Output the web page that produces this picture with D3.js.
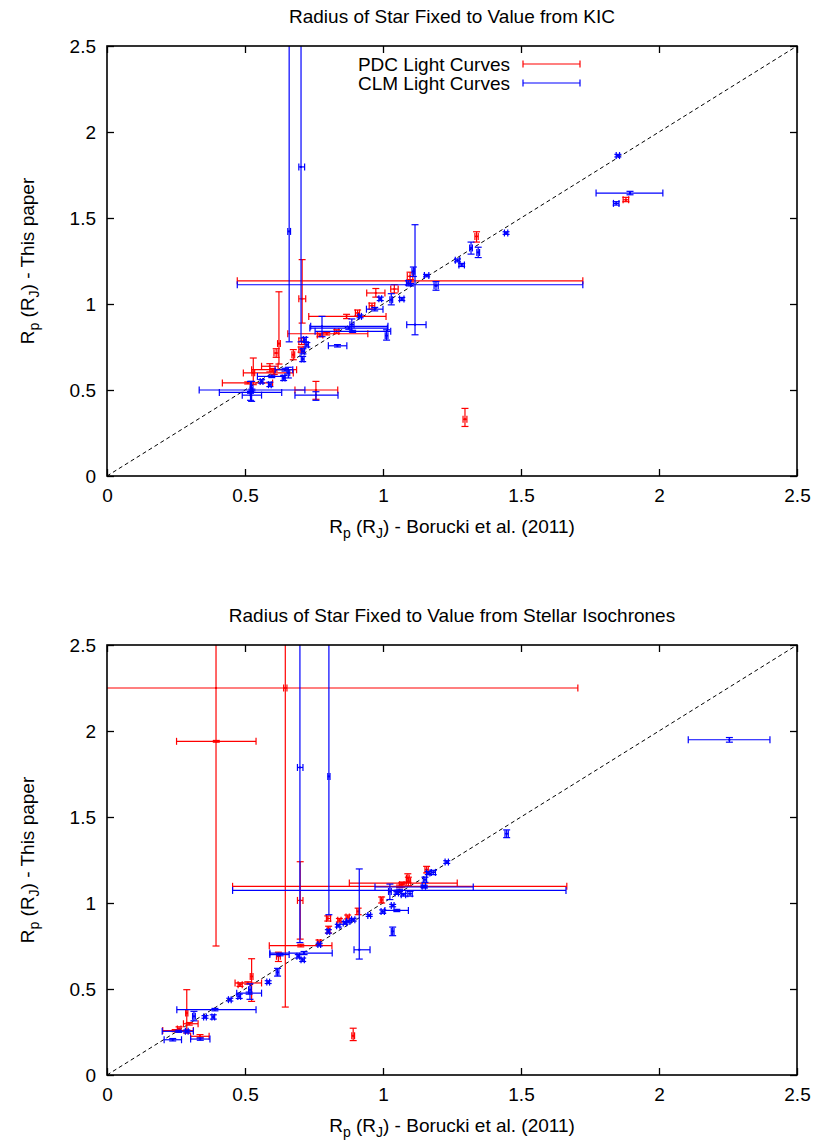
<!DOCTYPE html>
<html>
<head>
<meta charset="utf-8">
<script src="https://cdn.jsdelivr.net/npm/d3@7"></script>
<style>
  body { margin: 0; background: #fff; }
  text { font-family: "Liberation Sans", Arial, sans-serif; fill: #000; }
</style>
</head>
<body>
<div id="chart"></div>
<script>
// Planet radius comparison, two panels

// Data: [x, y, xlow, xhigh, ylow, yhigh]
var topPdc = [
  [1.10, 1.135, 0.472, 1.724, 1.128, 1.142],
  [0.707, 1.03, 0.695, 0.72, 0.889, 1.258],
  [0.623, 0.77, 0.618, 0.628, 0.651, 1.071],
  [0.757, 0.50, 0.681, 0.836, 0.446, 0.55],
  [0.868, 0.928, 0.731, 1.011, 0.915, 0.94],
  [0.796, 0.827, 0.655, 0.945, 0.82, 0.835],
  [1.098, 1.161, 1.088, 1.108, 1.14, 1.185],
  [1.041, 1.087, 1.028, 1.055, 1.064, 1.112],
  [0.974, 1.064, 0.941, 1.007, 1.04, 1.09],
  [0.96, 0.99, 0.95, 0.97, 0.97, 1.005],
  [0.908, 0.948, 0.9, 0.915, 0.93, 0.965],
  [0.772, 0.82, 0.762, 0.782, 0.81, 0.83],
  [0.832, 0.84, 0.825, 0.84, 0.83, 0.85],
  [0.705, 0.783, 0.695, 0.715, 0.764, 0.802],
  [0.675, 0.705, 0.67, 0.68, 0.676, 0.735],
  [0.703, 0.734, 0.695, 0.71, 0.72, 0.75],
  [0.613, 0.715, 0.605, 0.62, 0.69, 0.74],
  [0.60, 0.618, 0.524, 0.687, 0.61, 0.625],
  [0.53, 0.60, 0.525, 0.535, 0.531, 0.686],
  [0.59, 0.638, 0.56, 0.62, 0.605, 0.653],
  [0.606, 0.599, 0.494, 0.675, 0.59, 0.61],
  [0.51, 0.541, 0.418, 0.60, 0.535, 0.547],
  [1.297, 0.33, 1.29, 1.304, 0.288, 0.393],
  [1.339, 1.393, 1.333, 1.345, 1.36, 1.42],
  [1.88, 1.606, 1.87, 1.89, 1.595, 1.62]
];

var topClm = [
  [0.66, 1.422, 0.655, 0.665, 0.78, 2.9],
  [0.703, 1.797, 0.695, 0.716, 0.78, 2.9],
  [1.851, 1.863, 1.845, 1.857, 1.855, 1.87],
  [1.895, 1.645, 1.772, 2.014, 1.635, 1.655],
  [1.845, 1.585, 1.835, 1.855, 1.575, 1.595],
  [1.446, 1.413, 1.44, 1.452, 1.405, 1.42],
  [1.319, 1.326, 1.314, 1.324, 1.29, 1.36],
  [1.345, 1.30, 1.34, 1.35, 1.27, 1.33],
  [1.27, 1.254, 1.262, 1.278, 1.245, 1.262],
  [1.285, 1.227, 1.275, 1.295, 1.218, 1.236],
  [1.158, 1.165, 1.15, 1.166, 1.158, 1.172],
  [1.11, 1.19, 1.105, 1.115, 1.16, 1.215],
  [1.116, 0.88, 1.086, 1.156, 0.821, 1.461],
  [1.192, 1.106, 1.185, 1.2, 1.08, 1.13],
  [1.068, 1.029, 1.06, 1.076, 1.02, 1.038],
  [1.092, 1.122, 1.085, 1.1, 1.11, 1.135],
  [1.10, 1.112, 0.472, 1.724, 1.105, 1.119],
  [1.03, 1.025, 1.025, 1.035, 0.995, 1.06],
  [0.99, 1.03, 0.985, 0.995, 1.02, 1.04],
  [0.97, 0.97, 0.94, 1.0, 0.96, 0.98],
  [0.917, 0.928, 0.912, 0.922, 0.92, 0.936],
  [0.887, 0.88, 0.88, 0.895, 0.84, 0.913],
  [0.876, 0.86, 0.735, 1.016, 0.853, 0.867],
  [0.89, 0.841, 0.754, 1.028, 0.835, 0.847],
  [0.779, 0.87, 0.738, 1.018, 0.81, 0.928],
  [1.013, 0.816, 1.008, 1.018, 0.79, 0.85],
  [0.835, 0.757, 0.802, 0.869, 0.75, 0.764],
  [0.717, 0.793, 0.712, 0.722, 0.78, 0.806],
  [0.724, 0.763, 0.718, 0.73, 0.75, 0.776],
  [0.71, 0.725, 0.704, 0.716, 0.71, 0.74],
  [0.709, 0.68, 0.704, 0.714, 0.665, 0.695],
  [0.657, 0.60, 0.652, 0.662, 0.57, 0.632],
  [0.645, 0.618, 0.609, 0.673, 0.61, 0.626],
  [0.64, 0.57, 0.635, 0.645, 0.555, 0.585],
  [0.597, 0.579, 0.545, 0.645, 0.572, 0.586],
  [0.59, 0.531, 0.585, 0.595, 0.52, 0.545],
  [0.56, 0.55, 0.555, 0.565, 0.54, 0.56],
  [0.524, 0.511, 0.519, 0.529, 0.434, 0.55],
  [0.525, 0.50, 0.334, 0.717, 0.495, 0.505],
  [0.52, 0.486, 0.407, 0.633, 0.481, 0.491],
  [0.757, 0.47, 0.681, 0.837, 0.44, 0.49],
  [0.52, 0.47, 0.49, 0.56, 0.44, 0.55]
];

var bottomPdc = [
  [0.395, 2.25, -0.92, 1.706, 0.75, 3.75],
  [0.396, 1.94, 0.252, 0.54, 1.935, 1.945],
  [0.646, 2.25, 0.64, 0.652, 0.395, 4.1],
  [0.70, 1.015, 0.69, 0.71, 0.79, 1.24],
  [1.07, 1.116, 0.878, 1.269, 1.11, 1.122],
  [1.06, 1.097, 0.455, 1.666, 1.09, 1.104],
  [0.892, 0.228, 0.887, 0.897, 0.2, 0.272],
  [1.158, 1.194, 1.152, 1.164, 1.175, 1.213],
  [1.092, 1.126, 1.085, 1.1, 1.1, 1.15],
  [1.09, 1.145, 1.085, 1.095, 1.12, 1.17],
  [1.068, 1.106, 1.06, 1.076, 1.095, 1.118],
  [0.995, 1.019, 0.99, 1.0, 1.0, 1.035],
  [0.91, 0.951, 0.905, 0.915, 0.932, 0.97],
  [0.872, 0.918, 0.866, 0.878, 0.908, 0.93],
  [0.842, 0.9, 0.836, 0.848, 0.89, 0.91],
  [0.80, 0.91, 0.795, 0.81, 0.895, 0.925],
  [0.803, 0.845, 0.798, 0.808, 0.825, 0.865],
  [0.768, 0.771, 0.762, 0.774, 0.755, 0.785],
  [0.702, 0.752, 0.588, 0.815, 0.745, 0.76],
  [0.621, 0.69, 0.614, 0.628, 0.66, 0.714],
  [0.524, 0.573, 0.519, 0.529, 0.428, 0.676],
  [0.51, 0.535, 0.464, 0.56, 0.528, 0.542],
  [0.482, 0.525, 0.475, 0.49, 0.515, 0.535],
  [0.289, 0.36, 0.285, 0.293, 0.244, 0.496],
  [0.298, 0.298, 0.277, 0.33, 0.29, 0.305],
  [0.261, 0.267, 0.255, 0.268, 0.255, 0.28],
  [0.247, 0.258, 0.202, 0.313, 0.252, 0.264],
  [0.337, 0.225, 0.303, 0.37, 0.215, 0.235]
];

var bottomClm = [
  [1.06, 1.073, 0.455, 1.663, 1.066, 1.08],
  [1.15, 1.093, 0.971, 1.327, 1.087, 1.099],
  [0.699, 1.788, 0.69, 0.71, 0.77, 2.9],
  [0.804, 1.736, 0.8, 0.808, 0.932, 2.9],
  [0.914, 0.728, 0.895, 0.953, 0.674, 1.198],
  [2.255, 1.949, 2.106, 2.402, 1.935, 1.962],
  [1.448, 1.403, 1.442, 1.454, 1.38, 1.425],
  [1.231, 1.238, 1.225, 1.237, 1.23, 1.246],
  [1.035, 0.835, 1.03, 1.04, 0.81, 0.86],
  [1.05, 0.957, 1.007, 1.092, 0.95, 0.963],
  [1.035, 0.985, 1.03, 1.04, 0.978, 0.992],
  [0.999, 0.95, 0.993, 1.005, 0.94, 0.96],
  [0.95, 0.928, 0.945, 0.955, 0.922, 0.934],
  [1.182, 1.178, 1.175, 1.19, 1.165, 1.19],
  [1.164, 1.174, 1.158, 1.17, 1.165, 1.183],
  [1.152, 1.136, 1.146, 1.158, 1.12, 1.15],
  [1.148, 1.097, 1.142, 1.154, 1.09, 1.104],
  [1.098, 1.054, 1.09, 1.106, 1.04, 1.068],
  [1.074, 1.048, 1.066, 1.082, 1.04, 1.056],
  [1.05, 1.058, 1.044, 1.056, 1.05, 1.066],
  [1.025, 1.067, 1.02, 1.03, 1.02, 1.11],
  [0.892, 0.903, 0.886, 0.898, 0.895, 0.911],
  [0.874, 0.893, 0.868, 0.88, 0.885, 0.9],
  [0.862, 0.884, 0.856, 0.868, 0.876, 0.892],
  [0.838, 0.868, 0.832, 0.844, 0.86, 0.876],
  [0.802, 0.835, 0.797, 0.807, 0.825, 0.845],
  [0.769, 0.758, 0.764, 0.774, 0.75, 0.766],
  [0.714, 0.709, 0.59, 0.816, 0.70, 0.718],
  [0.693, 0.69, 0.688, 0.698, 0.68, 0.70],
  [0.709, 0.67, 0.703, 0.715, 0.66, 0.68],
  [0.627, 0.70, 0.59, 0.66, 0.693, 0.707],
  [0.618, 0.597, 0.613, 0.623, 0.575, 0.62],
  [0.584, 0.54, 0.579, 0.589, 0.532, 0.548],
  [0.518, 0.496, 0.513, 0.523, 0.44, 0.53],
  [0.515, 0.476, 0.47, 0.56, 0.47, 0.482],
  [0.479, 0.457, 0.474, 0.484, 0.445, 0.47],
  [0.445, 0.438, 0.44, 0.45, 0.43, 0.446],
  [0.391, 0.38, 0.253, 0.54, 0.373, 0.387],
  [0.385, 0.337, 0.38, 0.39, 0.325, 0.35],
  [0.355, 0.337, 0.35, 0.36, 0.33, 0.345],
  [0.315, 0.341, 0.31, 0.32, 0.315, 0.37],
  [0.289, 0.254, 0.284, 0.294, 0.245, 0.262],
  [0.26, 0.254, 0.2, 0.313, 0.248, 0.26],
  [0.238, 0.205, 0.207, 0.27, 0.198, 0.212],
  [0.338, 0.209, 0.303, 0.373, 0.202, 0.216]
];

var tickValues = [0, 0.5, 1, 1.5, 2, 2.5];
var seriesNames = ["PDC Light Curves", "CLM Light Curves"];
var seriesColors = ["#ff0000", "#0000ff"];
var panelTitles = [
  "Radius of Star Fixed to Value from KIC",
  "Radius of Star Fixed to Value from Stellar Isochrones"
];

// Size of page and plot boxes
var width = 817;
var height = 1144;
var plotLeft = 107;
var plotRight = 797;
var panelTops = [46, 645];
var plotHeight = 430;
var capSize = 3.5;

var svg = d3.select('#chart')
  .append('svg')
  .attr('width', width)
  .attr('height', height);

var x_scale = d3.scaleLinear()
  .domain([0, 2.5])
  .range([0, plotRight - plotLeft]);

var y_scale = d3.scaleLinear()
  .domain([0, 2.5])
  .range([plotHeight, 0]);

drawPanel(0, topPdc, topClm, true);
drawPanel(1, bottomPdc, bottomClm, false);

function drawPanel(idx, pdc, clm, showLegend) {
  var w = plotRight - plotLeft;
  var g = svg.append('g')
    .attr('transform', 'translate(' + plotLeft + ',' + panelTops[idx] + ')');

  // clip so long error bars stop at the frame
  g.append('clipPath')
    .attr('id', 'clip' + idx)
    .append('rect')
    .attr('width', w)
    .attr('height', plotHeight);

  // title
  svg.append('text')
    .attr('x', plotLeft + w / 2)
    .attr('y', panelTops[idx] - 23)
    .attr('text-anchor', 'middle')
    .style('font-size', '19px')
    .text(panelTitles[idx]);

  // axes, ticks point inward
  var xaxis = d3.axisBottom(x_scale).tickValues(tickValues).tickSize(-7).tickPadding(13)
    .tickFormat(d3.format('~g'));
  var yaxis = d3.axisLeft(y_scale).tickValues(tickValues).tickSize(-7).tickPadding(11)
    .tickFormat(d3.format('~g'));

  g.append('g')
    .attr('transform', 'translate(0,' + plotHeight + ')')
    .call(xaxis);
  g.append('g').call(yaxis);
  g.append('g').call(d3.axisTop(x_scale).tickValues(tickValues).tickSize(-7).tickFormat(''));
  g.append('g')
    .attr('transform', 'translate(' + w + ',0)')
    .call(d3.axisRight(y_scale).tickValues(tickValues).tickSize(-7).tickFormat(''));

  g.selectAll('.domain').remove();
  g.selectAll('.tick line').attr('stroke', '#000').attr('stroke-width', 1.3);
  g.selectAll('.tick text')
    .style('font-size', '19px')
    .style('font-family', '"Liberation Sans", Arial, sans-serif');

  // diagonal y = x
  g.append('line')
    .attr('x1', x_scale(0)).attr('y1', y_scale(0))
    .attr('x2', x_scale(2.5)).attr('y2', y_scale(2.5))
    .attr('stroke', '#000')
    .attr('stroke-width', 1)
    .attr('stroke-dasharray', '4,3');

  var plotArea = g.append('g').attr('clip-path', 'url(#clip' + idx + ')');
  drawErrorBars(plotArea, pdc, seriesColors[0]);
  drawErrorBars(plotArea, clm, seriesColors[1]);

  // frame
  g.append('rect')
    .attr('width', w)
    .attr('height', plotHeight)
    .attr('fill', 'none')
    .attr('stroke', '#000')
    .attr('stroke-width', 1.6);

  // axis labels with subscripts
  var xl = svg.append('text')
    .attr('x', plotLeft + w / 2)
    .attr('y', panelTops[idx] + plotHeight + 57)
    .attr('text-anchor', 'middle')
    .style('font-size', '19px');
  addRadiusLabel(xl, ' - Borucki et al. (2011)');

  var yl = svg.append('text')
    .attr('transform', 'translate(34,' + (panelTops[idx] + plotHeight / 2) + ') rotate(-90)')
    .attr('text-anchor', 'middle')
    .style('font-size', '19px');
  addRadiusLabel(yl, ' - This paper');

  if (showLegend) {
    seriesNames.forEach(function(name, i) {
      var ly = 64 + i * 19 - panelTops[idx];
      g.append('text')
        .attr('x', 510 - plotLeft)
        .attr('y', ly + 7)
        .attr('text-anchor', 'end')
        .style('font-size', '19px')
        .text(name);
      var lg = g.append('g')
        .attr('stroke', seriesColors[i])
        .attr('stroke-width', 1.2);
      lg.append('line').attr('x1', 523 - plotLeft).attr('x2', 580 - plotLeft)
        .attr('y1', ly).attr('y2', ly);
      lg.append('line').attr('x1', 523 - plotLeft).attr('x2', 523 - plotLeft)
        .attr('y1', ly - capSize).attr('y2', ly + capSize);
      lg.append('line').attr('x1', 580 - plotLeft).attr('x2', 580 - plotLeft)
        .attr('y1', ly - capSize).attr('y2', ly + capSize);
    });
  }
}

function addRadiusLabel(el, tail) {
  el.append('tspan').text('R');
  el.append('tspan').attr('dy', 5).style('font-size', '14px').text('p');
  el.append('tspan').attr('dy', -5).text(' (R');
  el.append('tspan').attr('dy', 5).style('font-size', '14px').text('J');
  el.append('tspan').attr('dy', -5).text(')' + tail);
}

// Draw xy error bars with end caps and a small point
function drawErrorBars(parent, rows, color) {
  var grp = parent.append('g')
    .attr('stroke', color)
    .attr('stroke-width', 1.2)
    .attr('fill', 'none');

  var bars = grp.selectAll('g.bar')
    .data(rows)
    .enter()
    .append('g')
    .attr('class', 'bar');

  // horizontal bar
  bars.append('line')
    .attr('x1', function(d) { return x_scale(d[2]); })
    .attr('x2', function(d) { return x_scale(d[3]); })
    .attr('y1', function(d) { return y_scale(d[1]); })
    .attr('y2', function(d) { return y_scale(d[1]); });
  // vertical bar
  bars.append('line')
    .attr('x1', function(d) { return x_scale(d[0]); })
    .attr('x2', function(d) { return x_scale(d[0]); })
    .attr('y1', function(d) { return y_scale(d[4]); })
    .attr('y2', function(d) { return y_scale(d[5]); });

  // caps
  [2, 3].forEach(function(k) {
    bars.append('line')
      .attr('x1', function(d) { return x_scale(d[k]); })
      .attr('x2', function(d) { return x_scale(d[k]); })
      .attr('y1', function(d) { return y_scale(d[1]) - capSize; })
      .attr('y2', function(d) { return y_scale(d[1]) + capSize; });
  });
  [4, 5].forEach(function(k) {
    bars.append('line')
      .attr('x1', function(d) { return x_scale(d[0]) - capSize; })
      .attr('x2', function(d) { return x_scale(d[0]) + capSize; })
      .attr('y1', function(d) { return y_scale(d[k]); })
      .attr('y2', function(d) { return y_scale(d[k]); });
  });

  // point marker
  bars.append('rect')
    .attr('x', function(d) { return x_scale(d[0]) - 1; })
    .attr('y', function(d) { return y_scale(d[1]) - 1; })
    .attr('width', 2)
    .attr('height', 2)
    .attr('fill', color)
    .attr('stroke', 'none');
}
</script>
</body>
</html>
